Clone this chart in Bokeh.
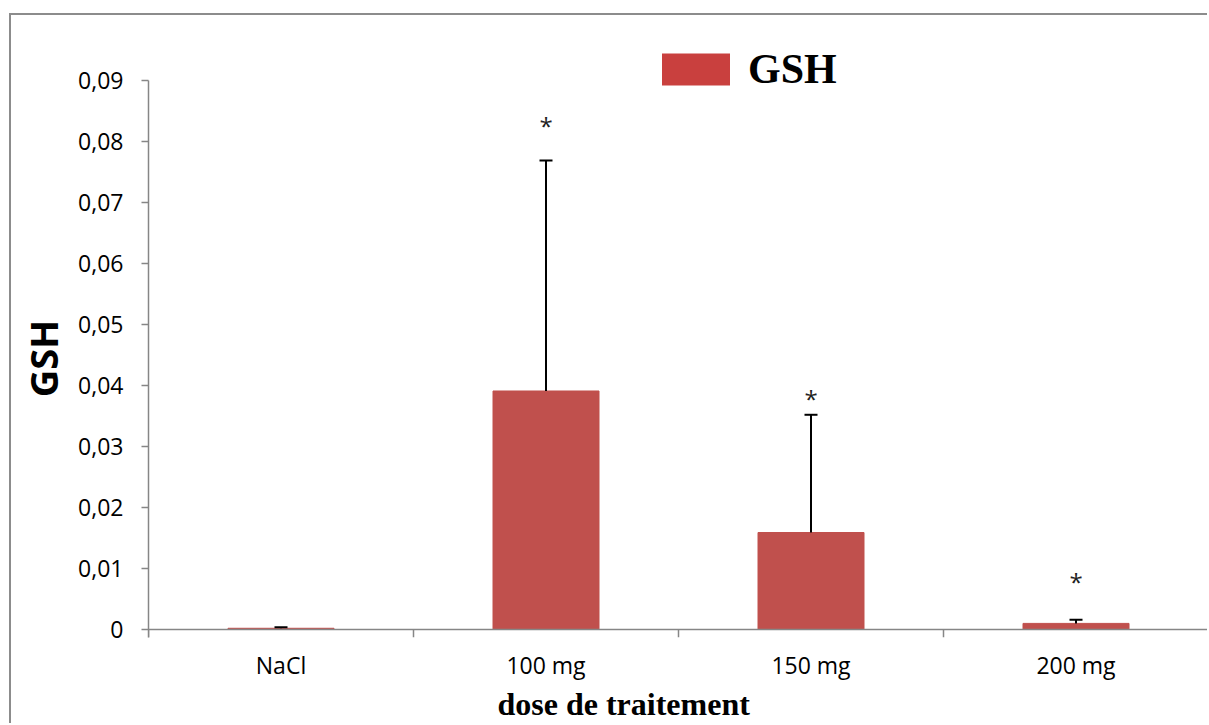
from bokeh.plotting import figure
from bokeh.models import (Range1d, FactorRange, FixedTicker, CustomJSTickFormatter, Span,
                          Legend, LegendItem, Title)
from bokeh.core.properties import value
from bokeh.embed import file_html
from bokeh.resources import INLINE

# ---- data ----
categories = ["NaCl", "100 mg", "150 mg", "200 mg"]
gsh_mean = [0.0002, 0.0391, 0.0159, 0.0010]
gsh_err = [0.00016, 0.0378, 0.0193, 0.0006]
star_categories = ["100 mg", "150 mg", "200 mg"]
star_y = [0.0826, 0.0379, 0.0079]
y_ticks = [0, 0.01, 0.02, 0.03, 0.04, 0.05, 0.06, 0.07, 0.08, 0.09]
series_name = "GSH"
x_title = "dose de traitement"
y_title = "GSH"

gsh_upper = [m + e for m, e in zip(gsh_mean, gsh_err)]

# ---- layout constants (pixels) ----
W, H = 1198, 710
CANVAS_TOP = 15
frame_top_px, axis_top_px, zero_px, frame_bottom_px = 20, 80, 629, 637
ML, MR = 137, 1
MT = frame_top_px - CANVAS_TOP
MB = CANVAS_TOP + H - frame_bottom_px
axis_max = y_ticks[-1]
per_px = axis_max / (zero_px - axis_top_px)
y_max = axis_max + (axis_top_px - frame_top_px) * per_px
y_min = -(frame_bottom_px - zero_px) * per_px

GRAY = "#868686"
BAR = "#C0504D"

p = figure(x_range=FactorRange(factors=categories, range_padding=0),
           y_range=Range1d(y_min, y_max),
           width=W, height=H, output_backend="svg", toolbar_location=None,
           min_border_left=ML, min_border_top=MT, min_border_right=MR, min_border_bottom=MB,
           background_fill_color="white", border_fill_color="white")
p.styles = {"border-top": "2px solid #8c8c8c", "border-left": "2px solid #8c8c8c"}
p.margin = (13, 0, 0, 9)
p.outline_line_color = None
p.xgrid.visible = False
p.ygrid.visible = False

# bars
p.vbar(x=categories, top=gsh_mean, width=0.4, fill_color=BAR, line_color=BAR)

# error bars (upper only)
p.segment(x0=categories, y0=gsh_mean, x1=categories, y1=gsh_upper, line_color="black", line_width=2)
p.scatter(x=categories, y=gsh_upper, marker="dash", size=13, line_color="black", line_width=2)

# significance stars
p.text(x=star_categories, y=star_y, text=["*"] * len(star_categories),
       text_font=value("Open Sans"), text_font_size="24px", text_color="#222222",
       text_align="center", text_baseline="alphabetic", y_offset=0)

# x axis line and boundary ticks
p.add_layout(Span(location=0, dimension="width", line_color=GRAY, line_width=1.5))
bounds = list(range(len(categories) + 1))
p.segment(x0=bounds, y0=[0] * len(bounds), x1=bounds, y1=[y_min] * len(bounds),
          line_color=GRAY, line_width=1.5)

# y axis
yax = p.yaxis[0]
yax.bounds = (y_min, axis_max)
yax.ticker = FixedTicker(ticks=y_ticks)
yax.formatter = CustomJSTickFormatter(code="return tick === 0 ? '0' : tick.toFixed(2).replace('.', ',');")
yax.axis_line_color = GRAY
yax.axis_line_width = 1.5
yax.major_tick_line_color = GRAY
yax.major_tick_line_width = 1.5
yax.major_tick_out = 7
yax.major_tick_in = 0
yax.minor_tick_line_color = None
yax.major_label_text_font = "Open Sans"
yax.major_label_text_font_size = "23px"
yax.major_label_text_color = "black"
yax.major_label_standoff = 18
# trailing no-break spaces centre the title on the 0..0.09 span rather than the whole frame
yax.axis_label = y_title + "\u00a0" * 6
yax.axis_label_text_font = "Open Sans"
yax.axis_label_text_font_size = "38px"
yax.axis_label_text_font_style = "bold"
yax.axis_label_text_color = "black"
yax.axis_label_standoff = 6

# x axis
xax = p.xaxis[0]
xax.axis_line_color = None
xax.major_tick_line_color = None
xax.minor_tick_line_color = None
xax.major_label_text_font = "Open Sans"
xax.major_label_text_font_size = "23px"
xax.major_label_text_color = "black"
xax.major_label_standoff = 5

p.add_layout(Title(text=x_title, align="left", offset=349, standoff=0, text_font="Liberation Serif",
                   text_font_size="32px", text_font_style="bold", text_color="black"), "below")

# legend (zero-height swatch renderer so only the legend shows it)
swatch = p.vbar(x=categories[:1], top=[0], bottom=[0], width=0.4,
                fill_color="#c9403e", line_color=None)
legend = Legend(items=[LegendItem(label=series_name, renderers=[swatch])],
                location=(505, 544), glyph_width=85, glyph_height=40,
                label_text_font="Liberation Serif", label_text_font_size="42px",
                label_text_font_style="bold", label_text_color="black",
                label_standoff=10, padding=0, margin=0, spacing=0,
                border_line_color=None, background_fill_alpha=0)
p.add_layout(legend, "center")

open("out.html", "w").write(file_html(p, INLINE))
